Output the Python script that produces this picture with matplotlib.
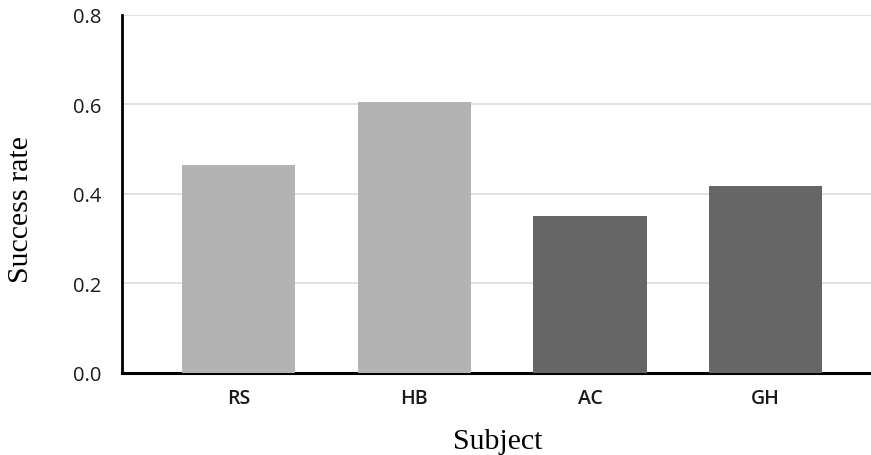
import matplotlib
matplotlib.use("Agg")
import matplotlib.pyplot as plt

subjects = ["RS", "HB", "AC", "GH"]
success_rate = [0.465, 0.605, 0.35, 0.417]
bar_colors = ["#b3b3b3", "#b3b3b3", "#666666", "#666666"]
y_ticks = [0.0, 0.2, 0.4, 0.6, 0.8]


def main():
    fig = plt.figure(figsize=(8.71, 4.56), dpi=100)
    ax = fig.add_axes([0.14, 0.18, 0.86, 0.785])

    x = range(len(subjects))
    ax.bar(x, success_rate, width=0.645, color=bar_colors, zorder=3)

    ax.set_ylim(0, 0.8)
    ax.set_xlim(-0.665, 3.6)
    ax.set_yticks(y_ticks)
    ax.set_yticklabels([f"{t:.1f}" for t in y_ticks], fontfamily="Open Sans",
                       fontsize=14.5, fontweight="medium")
    ax.set_xticks(list(x))
    ax.set_xticklabels(subjects, fontfamily="Open Sans", fontsize=14, fontweight="semibold")
    ax.tick_params(axis="both", length=0, colors="#1a1a1a")
    ax.tick_params(axis="x", pad=11)
    ax.tick_params(axis="y", pad=15)

    ax.yaxis.grid(True, color="#dcdcdc", linewidth=1.2, zorder=0)
    ax.set_axisbelow(True)
    for side in ["top", "right"]:
        ax.spines[side].set_visible(False)
    ax.spines["left"].set_linewidth(2)
    ax.spines["bottom"].set_linewidth(2.2)

    ax.set_xlabel("Subject", fontfamily="Liberation Serif", fontsize=21.5)
    ax.set_ylabel("Success rate", fontfamily="Liberation Serif", fontsize=21.5)
    ax.xaxis.set_label_coords(0.502, -0.155)
    ax.yaxis.set_label_coords(-0.117, 0.458)

    fig.savefig("out.png", dpi=100)


if __name__ == '__main__':
    main()
